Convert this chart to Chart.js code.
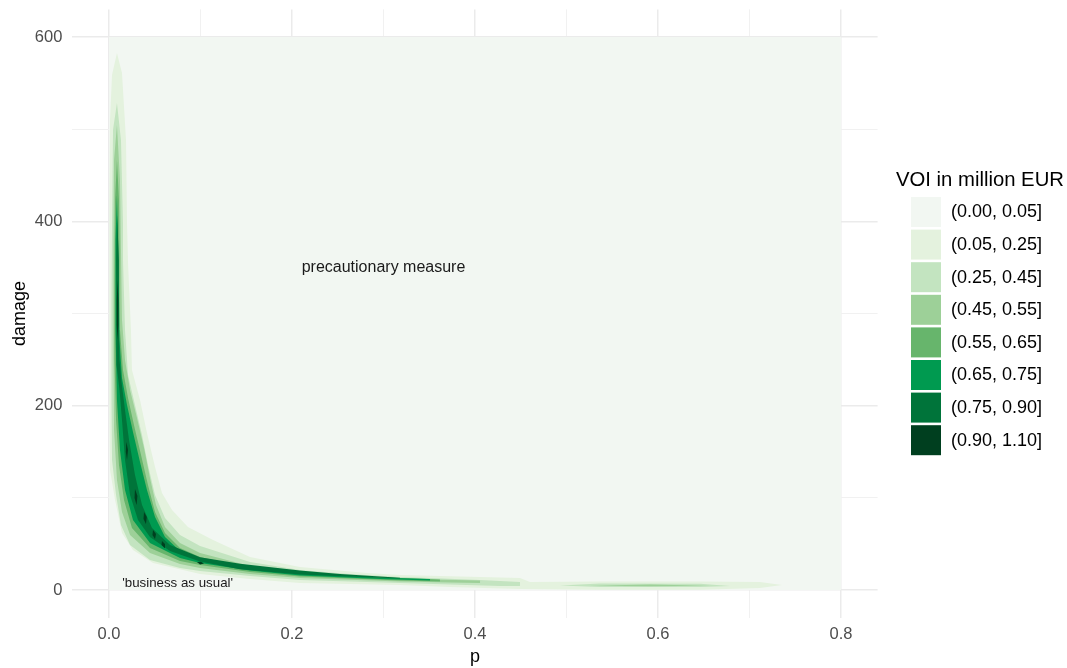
<!DOCTYPE html>
<html><head><meta charset="utf-8">
<script src="https://cdn.jsdelivr.net/npm/chart.js@4.4.1/dist/chart.umd.min.js"></script>
<style>html,body{margin:0;padding:0;background:#fff;}#wrap{width:1067px;height:668px;}</style>
</head><body><div id="wrap"><canvas id="c" width="1067" height="668"></canvas></div>
<script>
// ---------- data ----------
const legendTitle = 'VOI in million EUR';
const levelLabels = ['(0.00, 0.05]','(0.05, 0.25]','(0.25, 0.45]','(0.45, 0.55]','(0.55, 0.65]','(0.65, 0.75]','(0.75, 0.90]','(0.90, 1.10]'];
const levelColors = ['#f2f7f2','#e4f2de','#c3e4c0','#9dd098','#67b56c','#009a50','#00743a','#003f1f'];

const xTickValues = [0,0.1,0.2,0.3,0.4,0.5,0.6,0.7,0.8];
const xTickLabels = ['0.0','','0.2','','0.4','','0.6','','0.8'];
const yTickValues = [0,100,200,300,400,500,600];
const yTickLabels = ['0','','200','','400','','600'];

// contour bands, [p, damage] vertices
const gridExtent = [[0,0],[0.8,0],[0.8,600],[0,600]];
const band1 = [[0.0087,582.7],[0.0033,558.8],[0.0011,510],[0.0005,423.2],[0.0005,314.7],[0.0005,206.2],[0.0011,130.2],[0.0066,97.7],[0.0142,61.8],[0.0262,43.4],[0.0481,29.3],[0.0809,21.7],[0.0995,17.4],[0.1541,11.9],[0.2087,7.6],[0.318,5.4],[0.3727,3.3],[0.4492,1.1],[0.5366,0.3],[0.6459,0.3],[0.7115,2.2],[0.7355,5.4],
  [0.7115,8.7],[0.6459,9.2],[0.5366,9.2],[0.4601,8.7],[0.4492,13.0],[0.4055,14.1],[0.318,16.3],[0.282,18.4],[0.2087,25.0],[0.1541,35.8],[0.1137,54.3],[0.0863,68.4],[0.0689,86.8],[0.0579,105.3],[0.0503,133.5],[0.0415,170.4],[0.0339,206.2],[0.0251,238.7],[0.024,282.1],[0.0208,354.8],[0.0197,398.2],[0.0186,488.3],[0.0142,561]];
const band2 = [[0.0087,528.4],[0.0044,499.4],[0.0033,398.2],[0.0027,314.7],[0.0027,206.2],[0.0033,141.1],[0.0077,103.1],[0.0131,70.5],[0.023,48.8],[0.0448,32.6],[0.0776,23.9],[0.0995,20.6],[0.1541,15.2],[0.2087,10.9],[0.318,7.6],[0.3727,6.0],[0.4273,4.3],[0.4492,4.3],
  [0.4492,8.7],[0.4055,10.9],[0.3508,13.0],[0.318,14.1],[0.2634,17.4],[0.2087,21.7],[0.1541,30.4],[0.0995,47.7],[0.0776,59.7],[0.0612,78.1],[0.0503,103.1],[0.0426,135.6],[0.0361,168.2],[0.0284,200.7],[0.0208,233.3],[0.0175,282.1],[0.0153,358.0],[0.0153,398.2],[0.0131,488.3]];
const band2Tail = [[0.4929,4.9],[0.5366,3.3],[0.6459,3.3],[0.6787,4.3],[0.6459,6.7],[0.5366,7.1]];
const band3 = [[0.0087,504.6],[0.0055,466.6],[0.0049,369.1],[0.0049,260.4],[0.0055,173.6],[0.0087,119.4],[0.0142,84.6],[0.023,59.7],[0.0448,40.1],[0.0776,28.2],[0.0995,23.9],[0.1541,17.4],[0.2087,13.0],[0.318,9.2],[0.3727,8.1],[0.4055,7.6],
  [0.4055,10.3],[0.3508,11.4],[0.318,12.5],[0.2634,15.2],[0.2087,19.5],[0.1541,26.0],[0.0995,40.1],[0.0776,51.0],[0.0612,68.4],[0.0514,92.2],[0.0448,121.5],[0.0383,154.1],[0.0306,186.6],[0.023,217.0],[0.0175,249.6],[0.0142,293.0],[0.0131,369.1],[0.012,444.9]];
const band3Tail = [[0.5257,4.6],[0.5913,4.1],[0.6568,4.6],[0.5913,5.9]];
const band4 = [[0.0087,466.6],[0.0066,423.2],[0.006,336.4],[0.006,249.6],[0.0077,184.5],[0.0109,135.6],[0.0164,97.7],[0.0251,67.3],[0.0448,45.6],[0.0776,31.5],[0.0995,27.1],[0.1541,19.5],[0.2087,14.6],[0.318,10.3],[0.3617,9.2],
  [0.3617,11.4],[0.318,13.0],[0.2634,14.6],[0.2087,18.4],[0.1541,23.9],[0.0995,35.8],[0.0776,45.6],[0.0612,61.8],[0.0503,84.6],[0.0426,113.9],[0.035,146.5],[0.0273,179.0],[0.0208,208.3],[0.0153,238.7],[0.012,282.1],[0.0115,358.0],[0.0109,423.2]];
const band5 = [[0.0087,428.6],[0.0071,379.8],[0.0071,282.1],[0.0087,206.2],[0.012,151.9],[0.0175,108.5],[0.0262,76.0],[0.0448,51.0],[0.0776,34.7],[0.0995,29.3],[0.1541,21.2],[0.2087,15.7],[0.2962,11.9],[0.3508,10.3],
  [0.3508,11.9],[0.2962,13.6],[0.2087,17.9],[0.1541,23.3],[0.0995,33.6],[0.0776,42.3],[0.0612,57.5],[0.0503,79.2],[0.0415,108.5],[0.0339,138.9],[0.0262,171.4],[0.0197,200.7],[0.0142,230.0],[0.0115,271.3],[0.0104,358.0]];
const band6 = [[0.009,406.9],[0.0079,358.0],[0.0077,282.1],[0.0087,244.1],[0.0115,217.0],[0.0142,184.5],[0.0175,141.1],[0.023,103.1],[0.0317,76.0],[0.0448,57.5],[0.0667,42.3],[0.0995,31.0],[0.1432,22.6],[0.2087,16.9],[0.2525,15.0],[0.2962,13.2],[0.318,12.5],
  [0.318,13.3],[0.2962,14.6],[0.2525,17.4],[0.2087,21.0],[0.1432,28.4],[0.0995,35.6],[0.0667,48.8],[0.047,67.3],[0.0361,92.2],[0.0284,124.8],[0.0219,162.8],[0.0175,195.3],[0.0137,225.7],[0.0115,249.6],[0.0109,282.1],[0.0107,358.0]];
const band7Spike = [[0.0093,336.4],[0.0085,314.7],[0.0085,287.5],[0.0093,271.3],[0.0102,287.5],[0.0102,314.7]];
const band7DotA = [[0.0189,160.6],[0.0184,149.7],[0.0197,141.1],[0.0208,151.9]];
const band7DotB = [[0.0284,109.6],[0.0279,99.8],[0.0301,92.2],[0.0311,102.0]];
const band7DotC = [[0.0383,84.6],[0.0377,77.0],[0.0404,71.6],[0.0413,79.2]];
const band7DotD = [[0.0481,65.1],[0.0475,59.7],[0.0503,55.3],[0.0514,60.8]];
const band7DotE = [[0.0579,53.2],[0.0574,48.8],[0.0607,45.6],[0.0612,49.9]];
const band7DotF = [[0.0962,30.4],[0.0995,27.7],[0.1038,28.8],[0.1005,30.6]];

const annotationTexts = ['precautionary measure', "'business as usual'"];
const annotationP = [0.3, 0.075];
const annotationDamage = [350, 7.5];

// ---------- chart ----------
const FONT = '"Liberation Sans", Arial, Helvetica, sans-serif';
Chart.defaults.font.family = FONT;

const levels = [
  [gridExtent],
  [band1],
  [band2, band2Tail],
  [band3, band3Tail],
  [band4],
  [band5],
  [band6],
  [band7Spike, band7DotA, band7DotB, band7DotC, band7DotD, band7DotE, band7DotF]
];

const datasets = levels.flatMap((polys, i) => polys.map(poly => ({
  label: levelLabels[i],
  data: poly.map(([p, d]) => ({x: p, y: d})),
  backgroundColor: levelColors[i],
  borderColor: 'rgba(0,0,0,0)',
  borderWidth: 0,
  pointRadius: 0,
  pointHoverRadius: 0,
  tension: 0,
  fill: 'shape',
  order: levels.length - i
})));

const annotationPlugin = {
  id: 'annotations',
  afterDatasetsDraw(chart) {
    const {ctx, scales: {x, y}} = chart;
    const sizes = [16, 13.3];
    ctx.save();
    ctx.fillStyle = '#1a1a1a';
    ctx.textAlign = 'center';
    ctx.textBaseline = 'middle';
    annotationTexts.forEach((t, i) => {
      ctx.font = sizes[i] + 'px ' + FONT;
      ctx.fillText(t, x.getPixelForValue(annotationP[i]), y.getPixelForValue(annotationDamage[i]));
    });
    ctx.restore();
  }
};

const legendPlugin = {
  id: 'voiLegend',
  afterDraw(chart) {
    const {ctx, chartArea: area} = chart;
    const left = area.right + 18.4;
    const keySize = 30, step = 32.6;
    const midY = (area.top + area.bottom) / 2;
    const firstTop = midY - 116.5;
    ctx.save();
    ctx.textAlign = 'left';
    ctx.textBaseline = 'middle';
    ctx.fillStyle = '#000';
    ctx.font = '20.3px ' + FONT;
    ctx.fillText(legendTitle, left, firstTop - 17);
    ctx.font = '18px ' + FONT;
    levelLabels.forEach((lab, i) => {
      const top = firstTop + i * step;
      ctx.fillStyle = levelColors[i];
      ctx.fillRect(left + 15, top, keySize, keySize);
      ctx.fillStyle = '#000';
      ctx.fillText(lab, left + 15 + keySize + 10, top + keySize / 2 + 0.5);
    });
    ctx.restore();
  }
};

const xMajor = new Set([0, 0.2, 0.4, 0.6, 0.8].map(v => v.toFixed(2)));
const yMajor = new Set([0, 200, 400, 600].map(v => String(v)));

new Chart(document.getElementById('c'), {
  type: 'line',
  data: {datasets},
  options: {
    responsive: false,
    animation: false,
    events: [],
    devicePixelRatio: 1,
    layout: {padding: {top: 9.4, right: 189.4, left: 0, bottom: 0}},
    plugins: {legend: {display: false}, tooltip: {enabled: false}},
    scales: {
      x: {
        type: 'linear', min: -0.04, max: 0.84,
        afterBuildTicks: s => { s.ticks = xTickValues.map(v => ({value: v})); },
        afterFit: s => { s.height = 50.4; s.paddingLeft = 0; s.paddingRight = 0; s.paddingTop = 0; s.paddingBottom = 0; },
        ticks: {
          autoSkip: false, maxRotation: 0, padding: 7,
          color: '#4d4d4d', font: {size: 16.5},
          callback: (v, i) => xTickLabels[i]
        },
        grid: {
          drawTicks: false,
          color: c => (c.tick && xMajor.has(Number(c.tick.value).toFixed(2))) ? '#ebebeb' : '#f1f1f1',
          lineWidth: c => (c.tick && xMajor.has(Number(c.tick.value).toFixed(2))) ? 1.5 : 1
        },
        border: {display: false},
        title: {display: true, text: 'p', color: '#000', font: {size: 18}, padding: {top: 0, bottom: 0}}
      },
      y: {
        type: 'linear', min: -30, max: 630,
        afterBuildTicks: s => { s.ticks = yTickValues.map(v => ({value: v})); },
        afterFit: s => { s.width = 72.4; s.paddingLeft = 0; s.paddingRight = 0; s.paddingTop = 0; s.paddingBottom = 0; },
        ticks: {
          autoSkip: false, padding: 10,
          color: '#4d4d4d', font: {size: 16.5},
          callback: (v, i) => yTickLabels[i]
        },
        grid: {
          drawTicks: false,
          color: c => (c.tick && yMajor.has(String(c.tick.value))) ? '#ebebeb' : '#f1f1f1',
          lineWidth: c => (c.tick && yMajor.has(String(c.tick.value))) ? 1.5 : 1
        },
        border: {display: false},
        title: {display: true, text: 'damage', color: '#000', font: {size: 18}, padding: {top: 9, bottom: 0}}
      }
    }
  },
  plugins: [annotationPlugin, legendPlugin]
});
</script></body></html>
